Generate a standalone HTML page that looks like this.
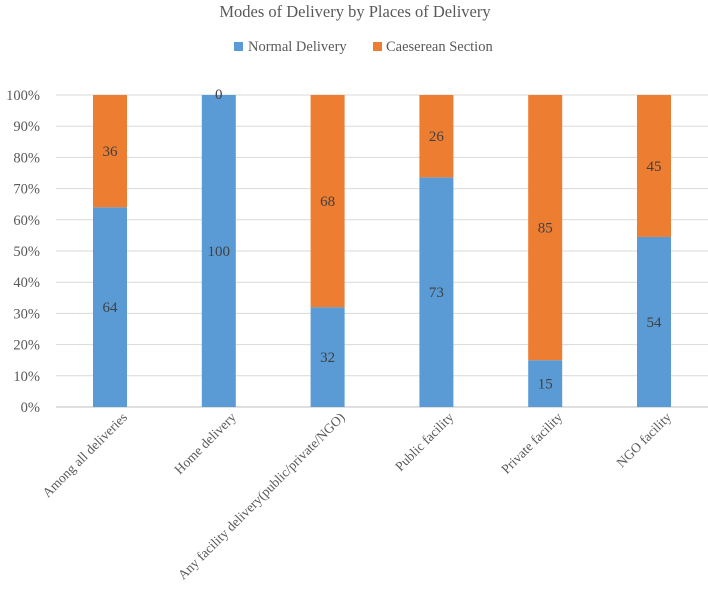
<!DOCTYPE html>
<html><head><meta charset="utf-8"><style>
html,body{margin:0;padding:0;background:#fff;}
svg{display:block;font-family:"Liberation Serif","DejaVu Serif",serif;}
</style></head><body>
<svg id="chart" width="708" height="597" viewBox="0 0 708 597">
<text x="355" y="17" text-anchor="middle" font-size="16.5" fill="#595959">Modes of Delivery by Places of Delivery</text>
<g>
<rect x="234" y="42" width="9" height="9" fill="#5B9BD5"/>
<text x="248" y="51" font-size="14.5" fill="#595959">Normal Delivery</text>
<rect x="373" y="42" width="9" height="9" fill="#ED7D31"/>
<text x="386" y="51" font-size="14.5" fill="#595959">Caeserean Section</text>
</g>
<g id="grid"></g><g id="bars"></g><g id="labels"></g>
</svg>
<script>
const categories=["Among all deliveries","Home delivery","Any facility delivery(public/private/NGO)","Public facility","Private facility","NGO facility"];
const normalValues=[64,100,32,73.6,15,54.5];
const caesareanValues=[36,0,68,26.4,85,45.5];
const normalLabels=["64","100","32","73","15","54"];
const caesareanLabels=["36","0","68","26","85","45"];
const yTicks=[0,10,20,30,40,50,60,70,80,90,100];
const NS="http://www.w3.org/2000/svg";
const y0=407,yTop=95,x0=110,step=108.8,bw=34;
const yS=v=>y0-(y0-yTop)*v/100;
const xS=i=>x0+step*i;
function mk(tag,attrs,parent,txt){const e=document.createElementNS(NS,tag);for(const k in attrs)e.setAttribute(k,attrs[k]);if(txt!==undefined)e.textContent=txt;parent.appendChild(e);return e;}
const grid=document.getElementById('grid'),bars=document.getElementById('bars'),labels=document.getElementById('labels');
yTicks.forEach(t=>{
 const l=mk('line',{x1:56,x2:708,y1:yS(t),y2:yS(t),stroke:t===0?'#bfbfbf':'#d9d9d9','stroke-width':1},grid);
 
 
 const tx=mk('text',{x:40,y:yS(t)+5,'text-anchor':'end','font-size':14.5,fill:'#595959'},grid,t+'%');
 
 
});
categories.forEach((c,i)=>{
 const cx=xS(i);
 const n=normalValues[i],s=caesareanValues[i];
 const b1=mk('rect',{x:cx-bw/2,y:yS(n),width:bw,height:yS(0)-yS(n),fill:'#5B9BD5'},bars);
 
 
 const b2=mk('rect',{x:cx-bw/2,y:yS(n+s),width:bw,height:yS(n)-yS(n+s),fill:'#ED7D31'},bars);
 
 
 const t1=mk('text',{x:cx,y:(yS(0)+yS(n))/2+5,'text-anchor':'middle','font-size':15,fill:'#404040'},labels,normalLabels[i]);
 
 
 const t2=mk('text',{x:cx,y:(s===0?yS(100)+4:(yS(n)+yS(n+s))/2+5),'text-anchor':'middle','font-size':15,fill:'#404040'},labels,caesareanLabels[i]);
 
 
 const ax=cx+18;
 const cl=mk('text',{x:ax,y:418,'text-anchor':'end','font-size':13.5,fill:'#595959',transform:'rotate(-45 '+ax+' 418)'},labels,c);
 
 
});
</script>
</body></html>
